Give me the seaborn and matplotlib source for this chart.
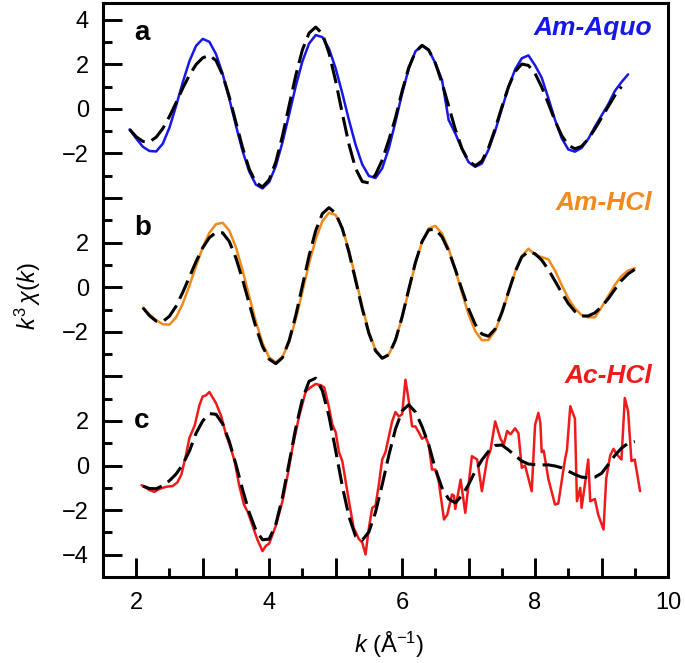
import numpy as np
import seaborn as sns
import matplotlib.pyplot as plt
from matplotlib.ticker import FixedLocator, FixedFormatter, MultipleLocator, FuncFormatter

# ---------------------------------------------------------------------------
# k^3 chi(k) data (k in 1/Angstrom)
# ---------------------------------------------------------------------------
k_aquo = np.linspace(1.9, 9.4, 76)
chi_aquo = [-0.92, -1.33, -1.70, -1.89, -1.91, -1.56, -0.84, 0.14, 1.19, 2.14,
            2.83, 3.14, 3.01, 2.46, 1.57, 0.45, -0.75, -1.89, -2.81, -3.40,
            -3.57, -3.28, -2.56, -1.50, -0.25, 1.02, 2.13, 2.93, 3.31, 3.22,
            2.70, 1.82, 0.70, -0.50, -1.61, -2.49, -3.01, -3.10, -2.67, -1.77,
            -0.58, 0.69, 1.81, 2.58, 2.85, 2.64, 2.05, 1.30, -0.50, -1.10,
            -1.80, -2.39, -2.60, -2.45, -1.83, -0.99, 0.00, 0.97, 1.77, 2.27,
            2.40, 1.95, 1.40, 0.48, -0.49, -1.31, -1.82, -1.92, -1.75, -1.35,
            -0.80, -0.30, 0.20, 0.80, 1.20, 1.55]

k_aquo_fit = np.linspace(1.9, 9.3, 75)
fit_aquo = [-0.92, -1.25, -1.46, -1.48, -1.27, -0.88, -0.34, 0.28, 0.93, 1.51,
            1.99, 2.29, 2.40, 2.17, 1.52, 0.54, -0.61, -1.74, -2.70, -3.31,
            -3.50, -3.18, -2.38, -1.21, 0.15, 1.50, 2.65, 3.40, 3.67, 3.37,
            2.51, 1.25, -0.20, -1.59, -2.67, -3.26, -3.32, -2.95, -2.30, -1.40,
            -0.40, 0.80, 1.85, 2.55, 2.85, 2.64, 2.05, 1.17, 0.13, -0.92,
            -1.78, -2.35, -2.55, -2.34, -1.75, -0.89, 0.08, 0.99, 1.68, 2.01,
            1.95, 1.59, 0.98, 0.24, -0.53, -1.19, -1.63, -1.79, -1.68, -1.35,
            -0.90, -0.40, 0.10, 0.60, 1.00]

k_hcl = np.linspace(2.1, 9.5, 75)
chi_hcl = [-0.92, -1.22, -1.48, -1.66, -1.68, -1.35, -0.74, 0.07, 0.95,
           1.78, 2.44, 2.83, 2.89, 2.54, 1.79, 0.76, -0.41, -1.55, -2.51,
           -3.15, -3.37, -3.13, -2.45, -1.43, -0.20, 1.06, 2.16, 2.96, 3.34,
           3.24, 2.64, 1.65, 0.41, -0.87, -2.01, -2.82, -3.17, -3.01, -2.37,
           -1.36, -0.15, 1.06, 2.04, 2.64, 2.75, 2.41, 1.72, 0.78, -0.25,
           -1.22, -1.97, -2.38, -2.37, -1.95, -1.18, -0.24, 0.68, 1.39, 1.73,
           1.45, 1.35, 1.25, 0.75, 0.10, -0.50, -0.95, -1.25, -1.35, -1.35,
           -0.90, -0.40, 0.10, 0.50, 0.75, 0.85]
fit_hcl = [-0.92, -1.28, -1.52, -1.54, -1.30, -0.85, -0.23, 0.46, 1.15,
           1.77, 2.22, 2.46, 2.44, 2.05, 1.31, 0.34, -0.74, -1.79, -2.66,
           -3.23, -3.43, -3.16, -2.40, -1.27, 0.07, 1.41, 2.54, 3.30, 3.57,
           3.32, 2.63, 1.57, 0.31, -0.96, -2.07, -2.85, -3.19, -3.03, -2.37,
           -1.33, -0.09, 1.11, 2.05, 2.57, 2.60, 2.26, 1.63, 0.80, -0.11,
           -0.97, -1.67, -2.10, -2.20, -1.87, -1.14, -0.21, 0.70, 1.36, 1.60,
           1.50, 1.22, 0.79, 0.28, -0.25, -0.73, -1.09, -1.29, -1.29, -1.15,
           -0.88, -0.52, -0.10, 0.30, 0.60, 0.80]

k_ac = [2.08, 2.2, 2.27, 2.35, 2.45, 2.55, 2.62, 2.68, 2.75, 2.8, 2.88, 2.95,
        3.0, 3.05, 3.1, 3.15, 3.2, 3.28, 3.35, 3.42, 3.48, 3.55, 3.62, 3.68,
        3.75, 3.82, 3.9, 3.95, 4.0, 4.1, 4.2, 4.28, 4.35, 4.45, 4.55, 4.62,
        4.7, 4.78, 4.83, 4.9, 4.95, 5.0, 5.05, 5.1, 5.15, 5.2, 5.27, 5.35,
        5.4, 5.45, 5.5, 5.55, 5.6, 5.65, 5.7, 5.75, 5.8, 5.85, 5.9, 5.95,
        6.0, 6.05, 6.1, 6.15, 6.2, 6.25, 6.3, 6.35, 6.4, 6.45, 6.5, 6.55,
        6.63, 6.68, 6.75, 6.78, 6.8, 6.88, 6.95, 7.05, 7.13, 7.2, 7.28, 7.33,
        7.4, 7.48, 7.53, 7.58, 7.63, 7.7, 7.75, 7.8, 7.85, 7.95, 8.0, 8.05,
        8.08, 8.1, 8.13, 8.2, 8.3, 8.35, 8.45, 8.48, 8.53, 8.6, 8.63, 8.68,
        8.7, 8.75, 8.8, 8.83, 8.9, 8.95, 9.03, 9.07, 9.13, 9.18, 9.23, 9.3,
        9.35, 9.4, 9.45, 9.5, 9.58]
chi_ac = [-0.88, -1.10, -1.18, -1.05, -0.95, -0.92, -0.75, -0.40, 0.50, 1.24,
          1.80, 2.70, 3.10, 3.15, 3.30, 3.05, 2.80, 2.20, 1.39, 0.80, 0.20,
          -0.90, -1.75, -2.10, -2.70, -3.30, -3.84, -3.60, -3.50, -2.70,
          -1.60, -0.40, 0.79, 2.20, 3.33, 3.50, 3.66, 3.60, 3.50, 2.60, 1.84,
          1.50, 0.60, 0.20, -0.70, -1.60, -2.79, -3.30, -3.45, -3.99, -2.80,
          -1.90, -1.80, -0.85, 0.27, 0.60, 1.30, 1.98, 2.40, 2.20, 2.30, 3.85,
          2.90, 1.76, 1.75, 1.50, 1.20, 1.30, 0.94, -0.18, -0.18, -0.70,
          -2.42, -2.20, -1.30, -1.35, -1.95, -0.63, -2.12, 0.42, 0.27, -1.15,
          0.30, 0.70, 1.98, 1.20, 0.94, 1.55, 1.40, 1.67, 1.45, -0.10, 0.00,
          -1.15, 1.82, 2.36, 1.90, 0.60, 0.67, -0.60, -1.75, -1.70, 0.27,
          0.70, 2.66, 2.10, -1.60, -1.00, -1.90, -0.85, 0.27, -1.60, -1.50,
          -2.20, -2.87, -0.60, 0.45, 0.75, 0.50, 0.27, 3.03, 2.43, 0.20, 0.27,
          -1.15]

k_ac_fit = np.linspace(2.1, 9.5, 75)
fit_ac = [-0.92, -1.03, -1.04, -0.90, -0.68, -0.38, 0.05, 0.65, 1.45, 2.00,
          2.33, 2.30, 1.87, 1.08, 0.05, -1.08, -2.11, -2.90, -3.33, -3.30,
          -2.63, -1.42, 0.12, 1.69, 2.98, 3.78, 3.92, 3.36, 2.21, 0.68, -0.92,
          -2.29, -3.17, -3.35, -2.98, -2.09, -0.86, 0.46, 1.64, 2.45, 2.73,
          2.40, 1.75, 0.94, -0.15, -1.00, -1.50, -1.67, -1.35, -0.85, -0.25,
          0.25, 0.64, 0.90, 0.92, 0.70, 0.45, 0.20, 0.07, 0.04, 0.03, 0.03,
          -0.02, -0.10, -0.25, -0.40, -0.52, -0.55, -0.52, -0.35, 0.04, 0.45,
          0.78, 1.00, 1.08]

sample_names = ["Am-Aquo", "Am-HCl", "Ac-HCl"]
panel_letters = ["a", "b", "c"]
sample_colors = ["#1717e6", "#f08a1c", "#ee1b1b"]
panel_offsets = [16, 8, 0]
ytick_values = [[-2, 0, 2, 4], [-2, 0, 2], [-4, -2, 0, 2]]

# ---------------------------------------------------------------------------
sns.set_style("ticks")
plt.rcParams["font.family"] = ["Liberation Sans", "DejaVu Sans"]
plt.rcParams["mathtext.fontset"] = "custom"
plt.rcParams["mathtext.rm"] = "Liberation Sans"
plt.rcParams["mathtext.it"] = "Liberation Sans:italic"
plt.rcParams["mathtext.bf"] = "Liberation Sans:bold"
for key in ("axes.edgecolor", "axes.labelcolor", "text.color",
            "xtick.color", "ytick.color"):
    plt.rcParams[key] = "black"

fig = plt.figure(figsize=(6.85, 6.63), dpi=100)
ax = fig.add_axes([103 / 685, 1 - 577 / 663, 565 / 685, 574 / 663])

series = [(k_aquo, chi_aquo, k_aquo_fit, fit_aquo),
          (k_hcl, chi_hcl, k_hcl, fit_hcl),
          (k_ac, chi_ac, k_ac_fit, fit_ac)]

for (kd, yd, kf, yf), off, col in zip(series, panel_offsets, sample_colors):
    sns.lineplot(x=np.asarray(kd), y=np.asarray(yd) + off, ax=ax, color=col,
                 lw=1.8, estimator=None, sort=False, zorder=2)
    sns.lineplot(x=np.asarray(kf), y=np.asarray(yf) + off, ax=ax,
                 color="black", lw=2.2, linestyle=(0, (6.5, 2.4)),
                 estimator=None, sort=False, zorder=3)

# panel letters and sample names
letter_y = [3.08, 2.34, 1.70]
name_y = [3.30, 3.46, 3.72]
for i in range(3):
    ax.text(1.97, letter_y[i] + panel_offsets[i], panel_letters[i],
            fontsize=20, fontweight="bold", ha="left", va="baseline")
    ax.text(9.76, name_y[i] + panel_offsets[i], sample_names[i],
            fontsize=19, fontweight="bold", fontstyle="italic",
            color=sample_colors[i], ha="right", va="baseline")

ax.set_xlim(1.5, 10)
ax.set_ylim(-5, 20.75)

# x ticks: long at integers, short at halves, labels on even numbers
ax.xaxis.set_major_locator(MultipleLocator(1))
ax.xaxis.set_minor_locator(MultipleLocator(0.5))
ax.xaxis.set_major_formatter(
    FuncFormatter(lambda v, p: f"{int(round(v))}" if round(v) % 2 == 0 else ""))

# y ticks: one stacked axis, labels relative to each panel's zero
ypos, ylab = [], []
for vals, off in zip(ytick_values, panel_offsets):
    for v in vals:
        ypos.append(v + off)
        ylab.append(str(v).replace("-", "\u2212"))
for extra in (4, 12):
    ypos.append(extra)
    ylab.append("")
order = np.argsort(ypos)
ax.yaxis.set_major_locator(FixedLocator([ypos[i] for i in order]))
ax.yaxis.set_major_formatter(FixedFormatter([ylab[i] for i in order]))
ax.yaxis.set_minor_locator(FixedLocator(list(range(-3, 20, 2))))

ax.tick_params(which="both", direction="in", width=2.1, top=False,
               right=False, labelsize=17, color="black", labelcolor="black")
ax.tick_params(which="major", length=13.5)
ax.tick_params(which="minor", length=6.5)
ax.tick_params(axis="y", pad=10)
ax.tick_params(axis="x", pad=11)
for sp in ax.spines.values():
    sp.set_linewidth(2.2)
    sp.set_color("black")
    sp.set_visible(True)

ax.set_xlabel(r"$k$ (Å$^{-1}$)", fontsize=17)
ax.xaxis.label.set_va("center")
ax.xaxis.set_label_coords(0.506, -0.118)
ax.set_ylabel(r"$k^3\,\chi(k)$", fontsize=17)
ax.yaxis.label.set_va("center")
ax.yaxis.set_label_coords(-0.133, 0.49)

fig.savefig("out.png", dpi=100)
